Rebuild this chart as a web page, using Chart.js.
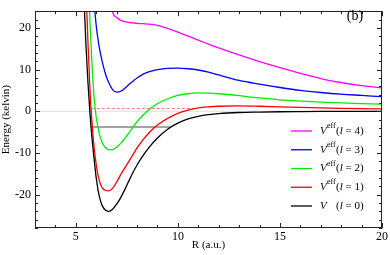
<!DOCTYPE html>
<html>
<head>
<meta charset="utf-8">
<script src="https://cdn.jsdelivr.net/npm/chart.js@4.4.1/dist/chart.umd.min.js"></script>
<style>
  html,body{margin:0;padding:0;background:#fff;}
  #wrap{width:390px;height:255px;}
</style>
</head>
<body>
<div id="wrap"><canvas id="potChart" width="390" height="255"></canvas></div>
<script>
// interatomic distance grid (a.u.)
const R = [5.3,5.4,5.5,5.6,5.7,5.8,5.9,6.0,6.1,6.2,6.3,6.45,6.6,6.8,7.0,7.2,7.4,7.6,7.8,8.0,8.3,8.6,9.0,9.5,10,10.5,11,11.5,12,13,14,15,16,17,18,19,20];

// energies in kelvin (null = above the frame, not drawn)
const vL0 = [40,27,15.5,6.5,-1.0,-6.8,-11.6,-16.0,-19.2,-21.3,-22.7,-23.7,-24.0,-23.5,-22.3,-20.7,-18.8,-16.7,-14.7,-12.9,-10.6,-8.6,-6.4,-4.3,-2.85,-1.85,-1.2,-0.8,-0.55,-0.3,-0.2,-0.12,-0.08,-0.05,-0.04,-0.03,-0.02];
const vL1 = [null,40,29,16,4.5,-3.2,-8.8,-12.8,-15.6,-17.4,-18.4,-19.0,-19.1,-18.5,-17.0,-15.2,-13.6,-12.0,-10.4,-8.8,-6.8,-5.1,-3.3,-1.7,-0.5,0.3,0.8,1.05,1.2,1.3,1.2,1.05,0.92,0.8,0.7,0.62,0.55];
const vL2 = [null,null,null,33,20.5,10.5,3.0,-1.5,-4.2,-6.2,-7.6,-8.7,-9.2,-9.2,-8.6,-7.7,-6.5,-5.2,-3.8,-2.5,-0.9,0.5,1.8,3.0,3.8,4.2,4.4,4.35,4.2,3.75,3.2,2.75,2.45,2.2,2.0,1.85,1.7];
const vL3 = [null,null,null,null,null,null,26,20.5,16.8,14.0,11.8,9.0,7.0,5.2,4.6,4.8,5.5,6.4,7.2,8.0,8.9,9.5,10.0,10.3,10.35,10.2,9.9,9.4,8.7,7.4,6.5,5.7,5.0,4.5,4.1,3.8,3.5];
const vL4 = [null,null,null,null,null,null,null,null,null,null,null,null,31,23.8,22.5,21.8,21.5,21.3,21.2,21.1,21.0,20.9,20.6,19.9,19.0,18.0,17.05,16.1,15.2,13.5,11.9,10.45,9.1,7.85,6.9,6.15,5.6];

// bound level (l=0) and quasi-bound level (l=1)
const boundR = [5.72, 9.6];
const boundE = -3.75;
const resR = [5.78, 10.8];
const resE = 0.65;
const zeroR = [3, 20];

const xTicks = [5,10,15,20];
const yTicks = [-20,-10,0,10,20];
const legendL = [4,3,2,1,0];

const SERIF = '"Liberation Serif","Times New Roman",serif';
const colors = {0:'#000000',1:'#ff0000',2:'#00ee00',3:'#0000ff',4:'#ff00ff'};
const curves = {0:vL0,1:vL1,2:vL2,3:vL3,4:vL4};

function pts(xs, ys){
  const out = [];
  xs.forEach((x,i)=>{ if (ys[i] !== null) out.push({x, y: ys[i]}); });
  return out;
}
function flat(xs, e){ return xs.map(x=>({x, y:e})); }

const datasets = [
  { data: flat(zeroR, 0), borderColor:'#dddddd', borderWidth:1, order:9 },
  { data: flat(boundR, boundE), borderColor:'rgba(140,140,140,0.8)', borderWidth:2, order:8 },
  { data: flat(resR, resE), borderColor:'rgba(255,60,60,0.7)', borderWidth:1, borderDash:[3,2], order:7 },
];
[4,3,2,1,0].forEach((l,i)=>{
  datasets.push({ label:'l='+l, data: pts(R, curves[l]), borderColor: colors[l], borderWidth:1.3,
    cubicInterpolationMode:'monotone', order: 5-i });
});

const frameTicks = {
  id:'frameTicks',
  afterDatasetsDraw(chart){
    const {ctx, chartArea:a, scales:{x, y}} = chart;
    ctx.save();
    ctx.strokeStyle = '#222';
    ctx.lineWidth = 1;
    ctx.strokeRect(Math.round(a.left)+0.5, Math.round(a.top)+0.5, Math.round(a.right-a.left)-1, Math.round(a.bottom-a.top)-1);
    ctx.beginPath();
    for (let v = 3; v <= 20; v++){
      const px = Math.round(x.getPixelForValue(v))+0.5;
      const len = v % 5 === 0 ? 5 : 3;
      ctx.moveTo(px, a.bottom); ctx.lineTo(px, a.bottom-len);
      ctx.moveTo(px, a.top); ctx.lineTo(px, a.top+len);
    }
    for (let v = -28; v <= 24; v += 2){
      const py = Math.round(y.getPixelForValue(v))+0.5;
      const len = v % 10 === 0 ? 5 : 3;
      ctx.moveTo(a.left, py); ctx.lineTo(a.left+len, py);
      ctx.moveTo(a.right, py); ctx.lineTo(a.right-len, py);
    }
    ctx.stroke();
    ctx.restore();
  },
  afterDraw(chart){
    const ctx = chart.ctx;
    ctx.save();
    ctx.fillStyle = '#000';
    ctx.textBaseline = 'middle';
    ctx.font = '14px ' + SERIF;
    ctx.textAlign = 'center';
    ctx.fillText('(b)', 355, 16);
    ctx.textAlign = 'left';
    legendL.forEach((l, i)=>{
      const yy = 131 + i*18.75;
      ctx.strokeStyle = colors[l];
      ctx.lineWidth = 1.3;
      ctx.beginPath(); ctx.moveTo(291, yy); ctx.lineTo(312, yy); ctx.stroke();
      ctx.font = 'italic 11px ' + SERIF;
      ctx.fillText('V', 320, yy);
      if (l > 0){
        ctx.font = '8px ' + SERIF;
        ctx.fillText('eff', 327, yy-5);
      }
      let xx = 336;
      ctx.font = '11px ' + SERIF;
      ctx.fillText('(', xx, yy); xx += ctx.measureText('(').width;
      ctx.font = 'italic 11px ' + SERIF;
      ctx.fillText('l', xx, yy); xx += ctx.measureText('l').width;
      ctx.font = '11px ' + SERIF;
      ctx.fillText(' = ' + l + ')', xx, yy);
    });
    ctx.restore();
  }
};

new Chart(document.getElementById('potChart'), {
  type:'line',
  data:{ datasets },
  options:{
    responsive:false, animation:false, devicePixelRatio:1,
    layout:{ padding:{ left:0, top:1, right:8, bottom:0 } },
    elements:{ point:{ radius:0 }, line:{ fill:false } },
    plugins:{ legend:{ display:false }, tooltip:{ enabled:false } },
    scales:{
      x:{
        type:'linear', min:3, max:20,
        afterBuildTicks: s => { s.ticks = xTicks.map(v=>({value:v})); },
        afterFit: s => { s.height = 27; },
        grid:{ display:false, drawTicks:false }, border:{ display:false },
        ticks:{ color:'#000', font:{ family:SERIF, size:12 }, padding:2, maxRotation:0, autoSkip:false },
        title:{ display:true, text:'R (a.u.)', color:'#000', font:{ family:SERIF, size:11 }, padding:{ top:0, bottom:3 } }
      },
      y:{
        type:'linear', min:-28, max:24,
        afterBuildTicks: s => { s.ticks = yTicks.map(v=>({value:v})); },
        afterFit: s => { s.width = 35; },
        grid:{ display:false, drawTicks:false }, border:{ display:false },
        ticks:{ color:'#000', font:{ family:SERIF, size:12 }, padding:4 },
        title:{ display:true, text:'Energy (kelvin)', color:'#000', font:{ family:SERIF, size:11 }, padding:{ top:0, bottom:0 } }
      }
    }
  },
  plugins:[frameTicks]
});
</script>
</body>
</html>
